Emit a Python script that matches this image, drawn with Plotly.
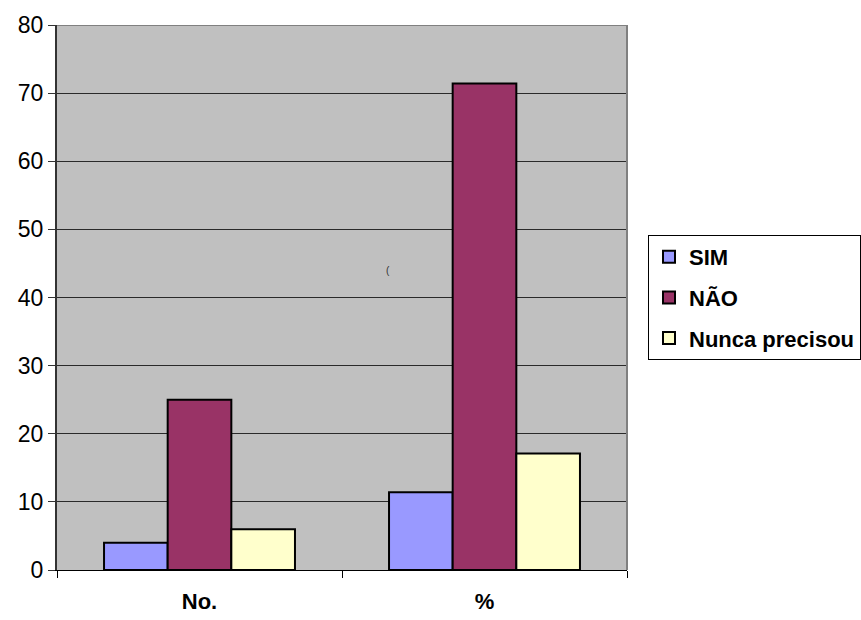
import plotly.graph_objects as go

categories = ["No.", "%"]
series_names = ["SIM", "NÃO", "Nunca precisou"]
sim_values = [4, 11.4]
nao_values = [25, 71.4]
nunca_values = [6, 17.1]
y_ticks = [0, 10, 20, 30, 40, 50, 60, 70, 80]

colors = ["#9999FF", "#993366", "#FFFFCC"]
font_family = "Liberation Sans, Arial, sans-serif"

fig = go.Figure()
for i, (name, vals) in enumerate(zip(series_names, [sim_values, nao_values, nunca_values])):
    fig.add_trace(go.Bar(
        x=categories, y=vals, name=f"<b>{name}</b>", legendgroup=f"g{i}",
        marker=dict(color=colors[i], line=dict(color="black", width=2)),
    ))

W, H = 861, 620
ml, mr, mt, mb = 57, 234, 25, 50
pw = W - ml - mr
ph = H - mt - mb

fig.update_layout(
    width=W, height=H,
    margin=dict(l=ml, r=mr, t=mt, b=mb, autoexpand=False),
    paper_bgcolor="white",
    plot_bgcolor="#C0C0C0",
    barmode="group",
    bargap=0.33,
    bargroupgap=0,
    font=dict(family=font_family, color="black", size=22),
    showlegend=True,
    legend=dict(
        x=(648 - ml) / pw, y=(H - mb - 235) / ph,
        xanchor="left", yanchor="top",
        bgcolor="white", bordercolor="black", borderwidth=1,
        font=dict(family=font_family, size=22, color="black"),
        tracegroupgap=9,
        traceorder="grouped",
        itemwidth=30,
    ),
    xaxis=dict(
        type="category",
        showline=True, linecolor="black", linewidth=1,
        ticks="outside", tickson="boundaries", ticklen=7, tickcolor="black",
        tickfont=dict(family=font_family, size=22, color="black", weight="bold"),
        ticklabelstandoff=12,
        showgrid=False, zeroline=False,
    ),
    yaxis=dict(
        range=[0, 80], tickvals=y_ticks,
        showline=True, linecolor="#333333", linewidth=2,
        ticks="outside", ticklen=7, tickcolor="#333333",
        tickfont=dict(family=font_family, size=23, color="black"),
        showgrid=True, gridcolor="#2a2a2a", gridwidth=1,
        zeroline=False,
    ),
)

# top and right frame of the plot area
fig.add_shape(type="line", xref="paper", yref="y", x0=0, x1=1, y0=80, y1=80,
              line=dict(color="#808080", width=2))
fig.add_shape(type="line", xref="paper", yref="y", x0=1, x1=1, y0=0, y1=80,
              line=dict(color="#808080", width=2))

# stray glyph inside the plot area
fig.add_annotation(x=(388 - ml) / pw, y=(H - mb - 270) / ph, xref="paper", yref="paper",
                   text="(", showarrow=False, font=dict(size=10, color="#333333"))

fig.write_html("out.html")
